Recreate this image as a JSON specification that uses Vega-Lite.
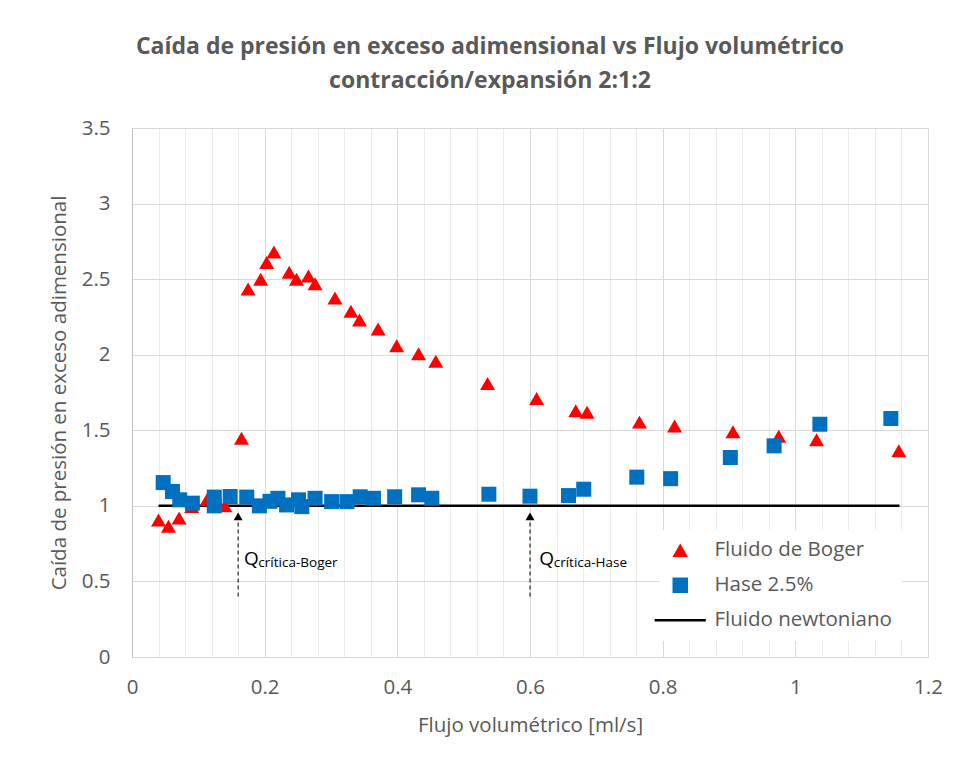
{
  "$schema": "https://vega.github.io/schema/vega-lite/v6.json",
  "autosize": "none",
  "width": 796,
  "height": 529,
  "padding": {"left": 132, "top": 128, "right": 34, "bottom": 116},
  "background": "white",
  "config": {
    "font": "Open Sans",
    "view": {"stroke": null},
    "axis": {"labelColor": "#595959", "titleColor": "#595959", "labelFont": "Open Sans", "titleFont": "Open Sans", "titleFontWeight": "normal"}
  },
  "title": {
    "text": ["Caída de presión en exceso adimensional vs Flujo volumétrico", "contracción/expansión 2:1:2"],
    "font": "Open Sans",
    "fontSize": 23,
    "fontWeight": "bold",
    "color": "#595959",
    "anchor": "middle",
    "frame": "group",
    "dx": -40,
    "offset": 25,
    "lineHeight": 34
  },
  "datasets": {
    "pts": [
      {"serie": "Fluido de Boger", "q": 0.040, "dp": 0.907},
      {"serie": "Fluido de Boger", "q": 0.055, "dp": 0.865},
      {"serie": "Fluido de Boger", "q": 0.071, "dp": 0.92},
      {"serie": "Fluido de Boger", "q": 0.090, "dp": 0.995},
      {"serie": "Fluido de Boger", "q": 0.113, "dp": 1.04},
      {"serie": "Fluido de Boger", "q": 0.140, "dp": 1.0},
      {"serie": "Fluido de Boger", "q": 0.165, "dp": 1.448},
      {"serie": "Fluido de Boger", "q": 0.175, "dp": 2.435},
      {"serie": "Fluido de Boger", "q": 0.194, "dp": 2.50},
      {"serie": "Fluido de Boger", "q": 0.203, "dp": 2.61},
      {"serie": "Fluido de Boger", "q": 0.214, "dp": 2.68},
      {"serie": "Fluido de Boger", "q": 0.237, "dp": 2.545},
      {"serie": "Fluido de Boger", "q": 0.248, "dp": 2.50},
      {"serie": "Fluido de Boger", "q": 0.266, "dp": 2.52},
      {"serie": "Fluido de Boger", "q": 0.276, "dp": 2.47},
      {"serie": "Fluido de Boger", "q": 0.306, "dp": 2.375},
      {"serie": "Fluido de Boger", "q": 0.330, "dp": 2.287},
      {"serie": "Fluido de Boger", "q": 0.343, "dp": 2.23},
      {"serie": "Fluido de Boger", "q": 0.371, "dp": 2.17},
      {"serie": "Fluido de Boger", "q": 0.399, "dp": 2.06},
      {"serie": "Fluido de Boger", "q": 0.432, "dp": 2.007},
      {"serie": "Fluido de Boger", "q": 0.458, "dp": 1.957},
      {"serie": "Fluido de Boger", "q": 0.536, "dp": 1.81},
      {"serie": "Fluido de Boger", "q": 0.610, "dp": 1.71},
      {"serie": "Fluido de Boger", "q": 0.669, "dp": 1.63},
      {"serie": "Fluido de Boger", "q": 0.686, "dp": 1.62},
      {"serie": "Fluido de Boger", "q": 0.765, "dp": 1.554},
      {"serie": "Fluido de Boger", "q": 0.818, "dp": 1.528},
      {"serie": "Fluido de Boger", "q": 0.906, "dp": 1.49},
      {"serie": "Fluido de Boger", "q": 0.975, "dp": 1.46},
      {"serie": "Fluido de Boger", "q": 1.032, "dp": 1.437},
      {"serie": "Fluido de Boger", "q": 1.156, "dp": 1.364},
      {"serie": "Hase 2.5%", "q": 0.047, "dp": 1.154},
      {"serie": "Hase 2.5%", "q": 0.061, "dp": 1.095},
      {"serie": "Hase 2.5%", "q": 0.072, "dp": 1.04},
      {"serie": "Hase 2.5%", "q": 0.091, "dp": 1.018},
      {"serie": "Hase 2.5%", "q": 0.124, "dp": 1.058},
      {"serie": "Hase 2.5%", "q": 0.124, "dp": 1.0},
      {"serie": "Hase 2.5%", "q": 0.148, "dp": 1.062},
      {"serie": "Hase 2.5%", "q": 0.173, "dp": 1.058},
      {"serie": "Hase 2.5%", "q": 0.192, "dp": 1.0},
      {"serie": "Hase 2.5%", "q": 0.208, "dp": 1.03},
      {"serie": "Hase 2.5%", "q": 0.220, "dp": 1.05},
      {"serie": "Hase 2.5%", "q": 0.233, "dp": 1.006},
      {"serie": "Hase 2.5%", "q": 0.251, "dp": 1.04},
      {"serie": "Hase 2.5%", "q": 0.256, "dp": 0.995},
      {"serie": "Hase 2.5%", "q": 0.276, "dp": 1.05},
      {"serie": "Hase 2.5%", "q": 0.301, "dp": 1.028},
      {"serie": "Hase 2.5%", "q": 0.324, "dp": 1.028},
      {"serie": "Hase 2.5%", "q": 0.344, "dp": 1.06},
      {"serie": "Hase 2.5%", "q": 0.364, "dp": 1.05},
      {"serie": "Hase 2.5%", "q": 0.396, "dp": 1.06},
      {"serie": "Hase 2.5%", "q": 0.432, "dp": 1.073},
      {"serie": "Hase 2.5%", "q": 0.452, "dp": 1.05},
      {"serie": "Hase 2.5%", "q": 0.538, "dp": 1.077},
      {"serie": "Hase 2.5%", "q": 0.600, "dp": 1.064},
      {"serie": "Hase 2.5%", "q": 0.658, "dp": 1.068},
      {"serie": "Hase 2.5%", "q": 0.681, "dp": 1.11},
      {"serie": "Hase 2.5%", "q": 0.761, "dp": 1.19},
      {"serie": "Hase 2.5%", "q": 0.812, "dp": 1.18},
      {"serie": "Hase 2.5%", "q": 0.902, "dp": 1.32},
      {"serie": "Hase 2.5%", "q": 0.968, "dp": 1.397},
      {"serie": "Hase 2.5%", "q": 1.037, "dp": 1.54},
      {"serie": "Hase 2.5%", "q": 1.144, "dp": 1.578}
    ],
    "newt": [
      {"serie": "Fluido newtoniano", "q": 0.040, "dp": 1},
      {"serie": "Fluido newtoniano", "q": 1.157, "dp": 1}
    ],
    "arrows": [
      {"q": 0.16, "y0": 0.4, "y1": 0.93},
      {"q": 0.60, "y0": 0.4, "y1": 0.93}
    ],
    "notes": [
      {"kind": "Q", "q": 0.1688, "dp": 0.609, "t": "Q"},
      {"kind": "sub", "q": 0.1905, "dp": 0.596, "t": "crítica-Boger"},
      {"kind": "Q", "q": 0.6139, "dp": 0.609, "t": "Q"},
      {"kind": "sub", "q": 0.6357, "dp": 0.596, "t": "crítica-Hase"}
    ]
  },
  "resolve": {"axis": {"x": "independent", "y": "independent"}},
  "layer": [
    {
      "data": {"name": "newt"},
      "mark": {"type": "line", "color": "black", "strokeWidth": 2.5},
      "encoding": {
        "x": {"field": "q", "type": "quantitative", "scale": {"domain": [0, 1.2], "nice": false},
          "axis": {"orient": "top", "grid": true, "gridColor": "#ececec", "gridWidth": 1, "labels": false, "ticks": false, "domain": false, "title": null,
            "values": [0.04, 0.08, 0.12, 0.16, 0.24, 0.28, 0.32, 0.36, 0.44, 0.48, 0.52, 0.56, 0.64, 0.68, 0.72, 0.76, 0.84, 0.88, 0.92, 0.96, 1.04, 1.08, 1.12, 1.16]}},
        "y": {"field": "dp", "type": "quantitative", "scale": {"domain": [0, 3.5], "nice": false}, "axis": null}
      }
    },
    {
      "data": {"name": "arrows"},
      "mark": {"type": "rule", "color": "black", "strokeWidth": 1, "strokeDash": [4, 3]},
      "encoding": {
        "x": {"field": "q", "type": "quantitative", "scale": {"domain": [0, 1.2], "nice": false}, "axis": null},
        "y": {"field": "y0", "type": "quantitative", "scale": {"domain": [0, 3.5], "nice": false}, "axis": null},
        "y2": {"field": "y1"}
      }
    },
    {
      "data": {"name": "arrows"},
      "mark": {"type": "point", "shape": "triangle-up", "filled": true, "color": "black", "opacity": 1, "size": 80, "strokeWidth": 0},
      "encoding": {
        "x": {"field": "q", "type": "quantitative", "scale": {"domain": [0, 1.2], "nice": false}, "axis": null},
        "y": {"field": "y1", "type": "quantitative", "scale": {"domain": [0, 3.5], "nice": false}, "axis": null}
      }
    },
    {
      "data": {"name": "notes"},
      "transform": [{"filter": "datum.kind === 'Q'"}],
      "mark": {"type": "text", "align": "left", "baseline": "alphabetic", "fontSize": 19, "color": "#000000", "font": "Open Sans"},
      "encoding": {
        "x": {"field": "q", "type": "quantitative", "scale": {"domain": [0, 1.2], "nice": false}, "axis": null},
        "y": {"field": "dp", "type": "quantitative", "scale": {"domain": [0, 3.5], "nice": false}, "axis": null},
        "text": {"field": "t"}
      }
    },
    {
      "data": {"name": "notes"},
      "transform": [{"filter": "datum.kind === 'sub'"}],
      "mark": {"type": "text", "align": "left", "baseline": "alphabetic", "fontSize": 13.5, "color": "#000000", "font": "Open Sans"},
      "encoding": {
        "x": {"field": "q", "type": "quantitative", "scale": {"domain": [0, 1.2], "nice": false}, "axis": null},
        "y": {"field": "dp", "type": "quantitative", "scale": {"domain": [0, 3.5], "nice": false}, "axis": null},
        "text": {"field": "t"}
      }
    },
    {
      "data": {"name": "pts"},
      "mark": {"type": "point", "filled": true, "opacity": 1, "size": 225, "strokeWidth": 0},
      "encoding": {
        "x": {"field": "q", "type": "quantitative", "scale": {"domain": [0, 1.2], "nice": false},
          "axis": {"orient": "bottom", "title": "Flujo volumétrico [ml/s]", "values": [0, 0.2, 0.4, 0.6, 0.8, 1, 1.2], "labelExpr": "'' + datum.value",
            "grid": true, "gridColor": "#d9d9d9", "gridWidth": 1, "ticks": false, "domain": true, "domainColor": "#d9d9d9", "domainWidth": 1,
            "labelFontSize": 20.5, "labelPadding": 20, "titleFontSize": 20.5, "titlePadding": 18, "labelFlush": false}},
        "y": {"field": "dp", "type": "quantitative", "scale": {"domain": [0, 3.5], "nice": false},
          "axis": {"title": "Caída de presión en exceso adimensional", "values": [0, 0.5, 1, 1.5, 2, 2.5, 3, 3.5], "labelExpr": "'' + datum.value",
            "grid": true, "gridColor": "#d9d9d9", "gridWidth": 1, "ticks": false, "domain": true, "domainColor": "#bfbfbf", "domainWidth": 1,
            "labelFontSize": 20.5, "labelPadding": 22, "titleFontSize": 20.5, "titlePadding": 12, "labelFlush": false}},
        "color": {"field": "serie", "type": "nominal",
          "scale": {"domain": ["Fluido de Boger", "Hase 2.5%", "Fluido newtoniano"], "range": ["#ff0000", "#0070c0", "#000000"]},
          "legend": {"orient": "none", "legendX": 528, "legendY": 402, "title": null, "fillColor": "white", "padding": 10,
            "symbolSize": 240, "labelFont": "Open Sans", "labelFontSize": 20.5, "labelColor": "#595959", "labelOffset": 24, "rowPadding": 14,
            "symbolStrokeWidth": 0, "symbolOpacity": 1, "labelLimit": 400}},
        "shape": {"field": "serie", "type": "nominal",
          "scale": {"domain": ["Fluido de Boger", "Hase 2.5%", "Fluido newtoniano"], "range": ["triangle-up", "square", "M-3.3,-0.16L3.3,-0.16L3.3,0.16L-3.3,0.16Z"]},
          "legend": null}
      }
    }
  ]
}
